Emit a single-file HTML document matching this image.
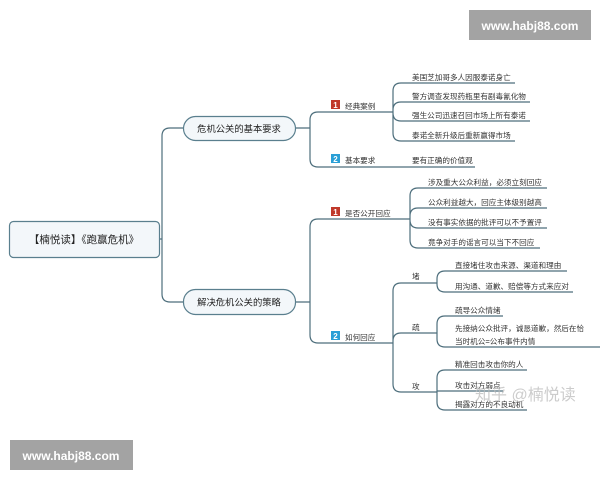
<!DOCTYPE html>
<html><head><meta charset="utf-8"><style>
html,body{margin:0;padding:0;background:#fff;}
svg{display:block;font-family:"Liberation Sans","Noto Sans CJK SC",sans-serif;}
.l{fill:none;stroke:#4d6e7c;stroke-width:1.2;}
.t{font-size:7.6px;fill:#333;}
.n{font-size:9.3px;fill:#222;}
</style></head><body>
<svg width="600" height="480" viewBox="0 0 600 480">
<rect x="0" y="0" width="600" height="480" fill="#fff"/>
<!-- watermarks -->
<rect x="469" y="10" width="122" height="30" fill="#a3a3a3"/>
<text x="530" y="30" text-anchor="middle" font-size="12" font-weight="bold" fill="#fff">www.habj88.com</text>
<rect x="10" y="440" width="123" height="30" fill="#a3a3a3"/>
<text x="71" y="460" text-anchor="middle" font-size="12" font-weight="bold" fill="#fff">www.habj88.com</text>

<!-- connectors -->
<path class="l" d="M159,239 H162 M162,239 V136 Q162,128 170,128 H183 M162,239 V294 Q162,302 170,302 H183"/>
<path class="l" d="M295,128 H310 V120 Q310,112 318,112 H393 M310,128 V159 Q310,167 318,167 H475"/>
<path class="l" d="M393,112 V91 Q393,83 401,83 H515 M393,112 V110 Q393,102 401,102 H530 M393,112 V113 Q393,121 401,121 H530 M393,112 V133 Q393,141 401,141 H515"/>
<path class="l" d="M295,302 H310 V227 Q310,219 318,219 H410 M310,302 V335 Q310,343 318,343 H393"/>
<path class="l" d="M410,219 V196 Q410,188 418,188 H547 M410,219 V216 Q410,208 418,208 H547 M410,219 V220 Q410,228 418,228 H547 M410,219 V240 Q410,248 418,248 H540"/>
<path class="l" d="M393,343 V291 Q393,283 401,283 H437 M393,343 V341 Q393,333 401,333 H437 M393,343 V384 Q393,392 401,392 H437"/>
<path class="l" d="M437,283 V279 Q437,271 445,271 H567 M437,283 V284 Q437,292 445,292 H573"/>
<path class="l" d="M437,333 V324 Q437,316 445,316 H503 M437,333 V339 Q437,347 445,347 H600"/>
<path class="l" d="M437,392 V378 Q437,370 445,370 H527 M437,392 V391 H503 M437,392 V402 Q437,410 445,410 H527"/>

<!-- nodes -->
<rect x="9.5" y="221.5" width="150" height="36" rx="4" fill="#f3f7fa" stroke="#5a7f8e" stroke-width="1.2"/>
<text x="84" y="243" text-anchor="middle" font-size="10.5" fill="#222">【楠悦读】《跑赢危机》</text>
<rect x="183.5" y="116.5" width="112" height="24" rx="12" fill="#f3f7fa" stroke="#5a7f8e" stroke-width="1.2"/>
<text x="239" y="132" text-anchor="middle" class="n">危机公关的基本要求</text>
<rect x="183.5" y="289.5" width="112" height="25" rx="12" fill="#f3f7fa" stroke="#5a7f8e" stroke-width="1.2"/>
<text x="239" y="305.5" text-anchor="middle" class="n">解决危机公关的策略</text>

<!-- badges -->
<rect x="331" y="100" width="9" height="9" fill="#c0392b"/><text x="335.5" y="108" text-anchor="middle" font-size="8" fill="#fff" font-weight="bold">1</text>
<text x="345" y="109" class="t">经典案例</text>
<rect x="331" y="154" width="9" height="9" fill="#2a9fd6"/><text x="335.5" y="162" text-anchor="middle" font-size="8" fill="#fff" font-weight="bold">2</text>
<text x="345" y="163" class="t">基本要求</text>
<rect x="331" y="207" width="9" height="9" fill="#c0392b"/><text x="335.5" y="215" text-anchor="middle" font-size="8" fill="#fff" font-weight="bold">1</text>
<text x="345" y="216" class="t">是否公开回应</text>
<rect x="331" y="331" width="9" height="9" fill="#2a9fd6"/><text x="335.5" y="339" text-anchor="middle" font-size="8" fill="#fff" font-weight="bold">2</text>
<text x="345" y="340" class="t">如何回应</text>

<!-- leaves -->
<text x="412" y="80" class="t">美国芝加哥多人因服泰诺身亡</text>
<text x="412" y="99" class="t">警方调查发现药瓶里有剧毒氰化物</text>
<text x="412" y="118" class="t">强生公司迅速召回市场上所有泰诺</text>
<text x="412" y="138" class="t">泰诺全新升级后重新赢得市场</text>
<text x="412" y="163" class="t">要有正确的价值观</text>

<text x="428" y="185" class="t">涉及重大公众利益，必须立刻回应</text>
<text x="428" y="205" class="t">公众利益越大，回应主体级别越高</text>
<text x="428" y="225" class="t">没有事实依据的批评可以不予置评</text>
<text x="428" y="245" class="t">竟争对手的谣言可以当下不回应</text>

<text x="412" y="279" class="t">堵</text>
<text x="412" y="330" class="t">疏</text>
<text x="412" y="389" class="t">攻</text>

<text x="455" y="268" class="t">直接堵住攻击来源、渠道和理由</text>
<text x="455" y="289" class="t">用沟通、道歉、赔偿等方式来应对</text>
<text x="455" y="313" class="t">疏导公众情绪</text>
<text x="455" y="331" class="t">先接纳公众批评，诚恳道歉，然后在恰</text>
<text x="455" y="344" class="t">当时机公=公布事件内情</text>
<text x="455" y="367" class="t">精准回击攻击你的人</text>
<text x="455" y="388" class="t">攻击对方弱点</text>
<text x="455" y="407" class="t">揭露对方的不良动机</text>

<text x="475" y="400" font-size="16" fill="#bbb" fill-opacity="0.75">知乎 @楠悦读</text>
</svg>
</body></html>
